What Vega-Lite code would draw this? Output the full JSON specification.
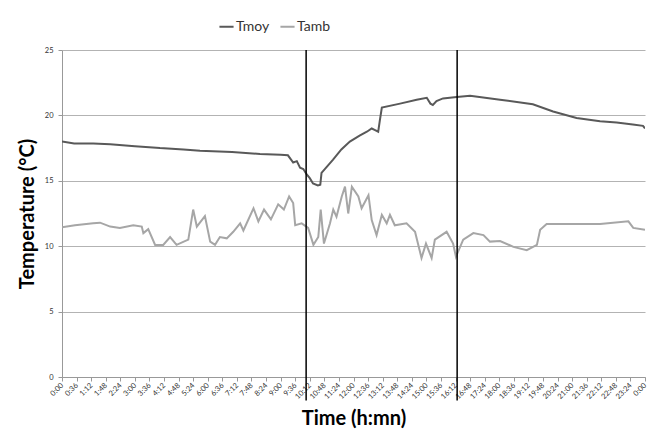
{
  "$schema": "https://vega.github.io/schema/vega-lite/v6.json",
  "width": 583,
  "height": 327,
  "autosize": {"type": "none"},
  "padding": {"left": 62, "top": 50, "right": 4, "bottom": 53},
  "background": "white",
  "config": {"view": {"stroke": null}, "font": "Lato", "axis": {"labelOverlap": false}},
  "datasets": {
    "series": [
      {"t": 0, "v": 18.0, "s": "Tmoy"},
      {"t": 30, "v": 17.85, "s": "Tmoy"},
      {"t": 77, "v": 17.85, "s": "Tmoy"},
      {"t": 119, "v": 17.8, "s": "Tmoy"},
      {"t": 180, "v": 17.65, "s": "Tmoy"},
      {"t": 242, "v": 17.5, "s": "Tmoy"},
      {"t": 300, "v": 17.4, "s": "Tmoy"},
      {"t": 341, "v": 17.3, "s": "Tmoy"},
      {"t": 420, "v": 17.2, "s": "Tmoy"},
      {"t": 489, "v": 17.05, "s": "Tmoy"},
      {"t": 540, "v": 17.0, "s": "Tmoy"},
      {"t": 558, "v": 16.95, "s": "Tmoy"},
      {"t": 571, "v": 16.4, "s": "Tmoy"},
      {"t": 580, "v": 16.5, "s": "Tmoy"},
      {"t": 588, "v": 16.0, "s": "Tmoy"},
      {"t": 596, "v": 15.9, "s": "Tmoy"},
      {"t": 604, "v": 15.5, "s": "Tmoy"},
      {"t": 612, "v": 15.2, "s": "Tmoy"},
      {"t": 620, "v": 14.8, "s": "Tmoy"},
      {"t": 632, "v": 14.65, "s": "Tmoy"},
      {"t": 638, "v": 14.7, "s": "Tmoy"},
      {"t": 641, "v": 15.6, "s": "Tmoy"},
      {"t": 669, "v": 16.6, "s": "Tmoy"},
      {"t": 690, "v": 17.4, "s": "Tmoy"},
      {"t": 711, "v": 18.0, "s": "Tmoy"},
      {"t": 735, "v": 18.45, "s": "Tmoy"},
      {"t": 753, "v": 18.75, "s": "Tmoy"},
      {"t": 765, "v": 19.0, "s": "Tmoy"},
      {"t": 772, "v": 18.9, "s": "Tmoy"},
      {"t": 781, "v": 18.75, "s": "Tmoy"},
      {"t": 785, "v": 19.6, "s": "Tmoy"},
      {"t": 790, "v": 20.6, "s": "Tmoy"},
      {"t": 835, "v": 20.9, "s": "Tmoy"},
      {"t": 876, "v": 21.2, "s": "Tmoy"},
      {"t": 901, "v": 21.35, "s": "Tmoy"},
      {"t": 910, "v": 20.9, "s": "Tmoy"},
      {"t": 916, "v": 20.8, "s": "Tmoy"},
      {"t": 925, "v": 21.1, "s": "Tmoy"},
      {"t": 941, "v": 21.3, "s": "Tmoy"},
      {"t": 975, "v": 21.4, "s": "Tmoy"},
      {"t": 1008, "v": 21.5, "s": "Tmoy"},
      {"t": 1082, "v": 21.2, "s": "Tmoy"},
      {"t": 1163, "v": 20.85, "s": "Tmoy"},
      {"t": 1213, "v": 20.3, "s": "Tmoy"},
      {"t": 1271, "v": 19.8, "s": "Tmoy"},
      {"t": 1329, "v": 19.55, "s": "Tmoy"},
      {"t": 1370, "v": 19.45, "s": "Tmoy"},
      {"t": 1410, "v": 19.3, "s": "Tmoy"},
      {"t": 1435, "v": 19.2, "s": "Tmoy"},
      {"t": 1440, "v": 19.0, "s": "Tmoy"},
      {"t": 0, "v": 11.45, "s": "Tamb"},
      {"t": 32, "v": 11.6, "s": "Tamb"},
      {"t": 77, "v": 11.75, "s": "Tamb"},
      {"t": 94, "v": 11.8, "s": "Tamb"},
      {"t": 119, "v": 11.5, "s": "Tamb"},
      {"t": 143, "v": 11.4, "s": "Tamb"},
      {"t": 176, "v": 11.6, "s": "Tamb"},
      {"t": 197, "v": 11.5, "s": "Tamb"},
      {"t": 201, "v": 11.0, "s": "Tamb"},
      {"t": 213, "v": 11.3, "s": "Tamb"},
      {"t": 230, "v": 10.1, "s": "Tamb"},
      {"t": 250, "v": 10.1, "s": "Tamb"},
      {"t": 267, "v": 10.7, "s": "Tamb"},
      {"t": 283, "v": 10.1, "s": "Tamb"},
      {"t": 312, "v": 10.5, "s": "Tamb"},
      {"t": 324, "v": 12.8, "s": "Tamb"},
      {"t": 333, "v": 11.5, "s": "Tamb"},
      {"t": 353, "v": 12.3, "s": "Tamb"},
      {"t": 366, "v": 10.35, "s": "Tamb"},
      {"t": 378, "v": 10.1, "s": "Tamb"},
      {"t": 390, "v": 10.7, "s": "Tamb"},
      {"t": 407, "v": 10.6, "s": "Tamb"},
      {"t": 423, "v": 11.1, "s": "Tamb"},
      {"t": 440, "v": 11.75, "s": "Tamb"},
      {"t": 448, "v": 11.2, "s": "Tamb"},
      {"t": 473, "v": 12.9, "s": "Tamb"},
      {"t": 485, "v": 11.9, "s": "Tamb"},
      {"t": 499, "v": 12.8, "s": "Tamb"},
      {"t": 516, "v": 12.05, "s": "Tamb"},
      {"t": 534, "v": 13.2, "s": "Tamb"},
      {"t": 548, "v": 12.8, "s": "Tamb"},
      {"t": 561, "v": 13.8, "s": "Tamb"},
      {"t": 571, "v": 13.3, "s": "Tamb"},
      {"t": 576, "v": 11.6, "s": "Tamb"},
      {"t": 592, "v": 11.75, "s": "Tamb"},
      {"t": 608, "v": 11.4, "s": "Tamb"},
      {"t": 621, "v": 10.1, "s": "Tamb"},
      {"t": 633, "v": 10.7, "s": "Tamb"},
      {"t": 639, "v": 12.8, "s": "Tamb"},
      {"t": 647, "v": 10.2, "s": "Tamb"},
      {"t": 662, "v": 11.75, "s": "Tamb"},
      {"t": 670, "v": 12.8, "s": "Tamb"},
      {"t": 678, "v": 12.25, "s": "Tamb"},
      {"t": 691, "v": 13.8, "s": "Tamb"},
      {"t": 699, "v": 14.55, "s": "Tamb"},
      {"t": 707, "v": 12.5, "s": "Tamb"},
      {"t": 716, "v": 14.55, "s": "Tamb"},
      {"t": 732, "v": 13.8, "s": "Tamb"},
      {"t": 740, "v": 12.9, "s": "Tamb"},
      {"t": 757, "v": 13.9, "s": "Tamb"},
      {"t": 765, "v": 12.0, "s": "Tamb"},
      {"t": 777, "v": 10.85, "s": "Tamb"},
      {"t": 790, "v": 12.4, "s": "Tamb"},
      {"t": 802, "v": 11.75, "s": "Tamb"},
      {"t": 810, "v": 12.4, "s": "Tamb"},
      {"t": 822, "v": 11.6, "s": "Tamb"},
      {"t": 851, "v": 11.75, "s": "Tamb"},
      {"t": 872, "v": 11.1, "s": "Tamb"},
      {"t": 888, "v": 9.1, "s": "Tamb"},
      {"t": 899, "v": 10.2, "s": "Tamb"},
      {"t": 913, "v": 9.1, "s": "Tamb"},
      {"t": 921, "v": 10.5, "s": "Tamb"},
      {"t": 950, "v": 11.1, "s": "Tamb"},
      {"t": 966, "v": 10.2, "s": "Tamb"},
      {"t": 973, "v": 9.2, "s": "Tamb"},
      {"t": 991, "v": 10.5, "s": "Tamb"},
      {"t": 1016, "v": 11.0, "s": "Tamb"},
      {"t": 1041, "v": 10.85, "s": "Tamb"},
      {"t": 1057, "v": 10.35, "s": "Tamb"},
      {"t": 1082, "v": 10.4, "s": "Tamb"},
      {"t": 1115, "v": 9.95, "s": "Tamb"},
      {"t": 1148, "v": 9.7, "s": "Tamb"},
      {"t": 1173, "v": 10.1, "s": "Tamb"},
      {"t": 1181, "v": 11.25, "s": "Tamb"},
      {"t": 1197, "v": 11.7, "s": "Tamb"},
      {"t": 1247, "v": 11.7, "s": "Tamb"},
      {"t": 1329, "v": 11.7, "s": "Tamb"},
      {"t": 1399, "v": 11.9, "s": "Tamb"},
      {"t": 1411, "v": 11.4, "s": "Tamb"},
      {"t": 1440, "v": 11.25, "s": "Tamb"}
    ],
    "markers": [
      {"t": 603, "v": 25, "v2": -1.8},
      {"t": 976, "v": 25, "v2": -1.8}
    ]
  },
  "encoding": {
    "x": {
      "field": "t",
      "type": "quantitative",
      "scale": {"domain": [0, 1440], "nice": false, "zero": false},
      "axis": {
        "title": "Time (h:mn)",
        "titleFont": "Lato",
        "titleFontSize": 20,
        "titleFontWeight": "bold",
        "titleColor": "black",
        "titlePadding": 8,
        "values": [0,36,72,108,144,180,216,252,288,324,360,396,432,468,504,540,576,612,648,684,720,756,792,828,864,900,936,972,1008,1044,1080,1116,1152,1188,1224,1260,1296,1332,1368,1404,1440],
        "labelExpr": "(floor(datum.value/60)%24) + ':' + ((datum.value%60) < 10 ? '0' : '') + (datum.value%60)",
        "labelAngle": -45,
        "labelAlign": "right",
        "labelBaseline": "middle",
        "labelFontSize": 7.5,
        "labelColor": "#333",
        "labelOverlap": false,
        "labelFlush": false,
        "labelPadding": 3,
        "grid": false,
        "domainColor": "#999",
        "tickColor": "#999",
        "tickSize": 4
      }
    },
    "y": {
      "field": "v",
      "type": "quantitative",
      "scale": {"domain": [0, 25], "nice": false},
      "axis": {
        "title": "Temperature (°C)",
        "titleFont": "Lato",
        "titleFontSize": 20,
        "titleFontWeight": "bold",
        "titleColor": "black",
        "titlePadding": 7,
        "values": [0, 5, 10, 15, 20, 25],
        "labelFontSize": 7.5,
        "labelColor": "#333",
        "labelPadding": 5,
        "grid": true,
        "gridColor": "#b3b3b3",
        "gridWidth": 1,
        "domainColor": "#999",
        "tickColor": "#999",
        "tickSize": 4
      }
    }
  },
  "layer": [
    {
      "data": {"name": "series"},
      "mark": {"type": "line", "strokeWidth": 2, "clip": true},
      "encoding": {
        "color": {
          "field": "s",
          "type": "nominal",
          "scale": {"domain": ["Tmoy", "Tamb"], "range": ["#595959", "#a6a6a6"]},
          "legend": {
            "title": null,
            "orient": "none",
            "direction": "horizontal",
            "legendX": 156,
            "legendY": -32,
            "symbolType": "stroke",
            "symbolStrokeWidth": 2,
            "symbolSize": 200,
            "labelFontSize": 14,
            "labelColor": "#333",
            "labelOffset": 1,
            "columnPadding": 6
          }
        }
      }
    },
    {
      "data": {"name": "markers"},
      "mark": {"type": "rule", "color": "black", "strokeWidth": 1.5},
      "encoding": {
        "y2": {"field": "v2"}
      }
    }
  ]
}
